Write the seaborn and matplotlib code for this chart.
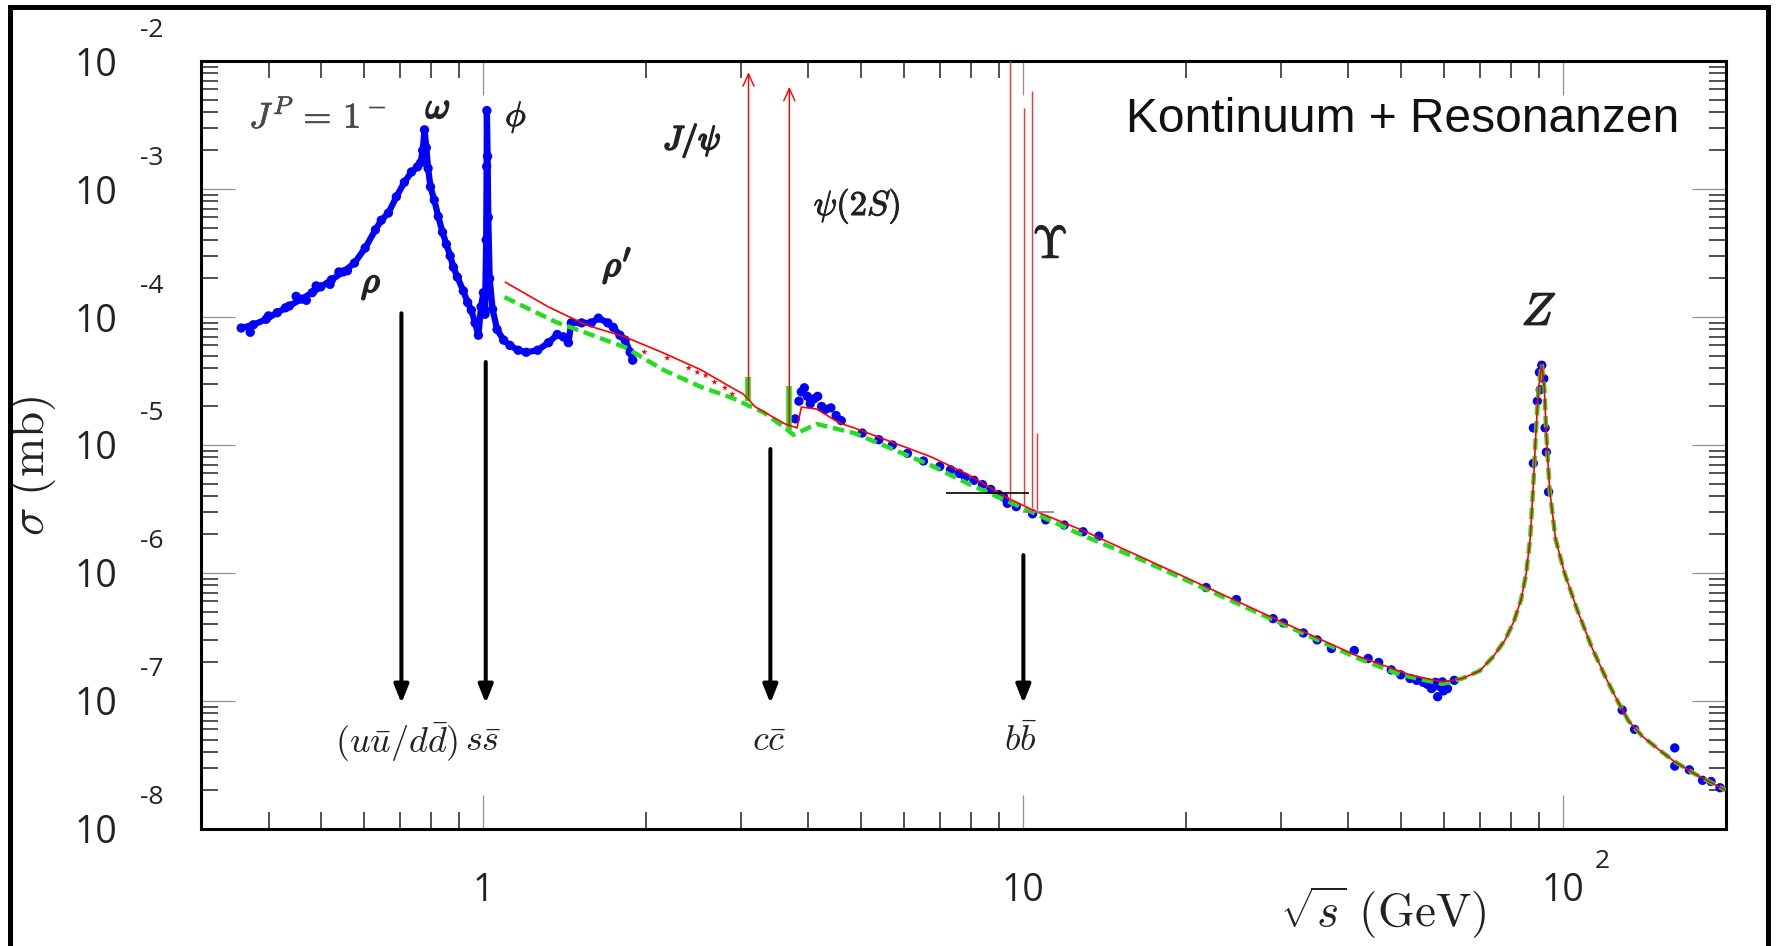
# e+e- -> hadrons cross section, "Kontinuum + Resonanzen"
# values (sqrt(s) in GeV, sigma in mb)

import numpy as np
import pandas as pd
import seaborn as sns
import matplotlib.pyplot as plt
import matplotlib.patheffects as pe
from matplotlib.patches import Rectangle
from matplotlib.ticker import NullFormatter, LogLocator

# ---------------------------------------------------------------
# 1. Data
# ---------------------------------------------------------------
# blue data: rho / omega / phi / rho' band
low_x = [0.356, 0.375, 0.396, 0.415, 0.437, 0.46, 0.482, 0.50, 0.523, 0.55,
         0.577, 0.604, 0.631, 0.647, 0.667, 0.69, 0.714, 0.736, 0.755, 0.765,
         0.772, 0.778, 0.784, 0.79, 0.798, 0.811, 0.825, 0.84, 0.854, 0.868,
         0.88, 0.895, 0.918, 0.935, 0.95, 0.965, 0.979, 0.99, 1.0, 1.007,
         1.012, 1.014, 1.015, 1.018, 1.021, 1.027, 1.04, 1.06, 1.09, 1.12,
         1.16, 1.20, 1.26, 1.32, 1.37, 1.406, 1.437, 1.455, 1.52, 1.585,
         1.633, 1.70, 1.74, 1.79, 1.83, 1.87, 1.89]
low_y = [8.2e-5, 8.7e-5, 9.6e-5, 1.08e-4, 1.22e-4, 1.38e-4, 1.55e-4, 1.72e-4, 1.95e-4, 2.25e-4,
         2.64e-4, 3.46e-4, 4.8e-4, 5.7e-4, 6.5e-4, 8.7e-4, 1.13e-3, 1.36e-3, 1.49e-3, 1.6e-3,
         2.0e-3, 2.9e-3, 2.1e-3, 1.45e-3, 1.04e-3, 8.2e-4, 6.1e-4, 4.6e-4, 3.7e-4, 3.0e-4,
         2.45e-4, 2.05e-4, 1.6e-4, 1.3e-4, 1.13e-4, 9.0e-5, 7.2e-5, 1.2e-4, 1.55e-4, 1.05e-4,
         4.0e-4, 1.5e-3, 4.1e-3, 1.8e-3, 6.0e-4, 2.0e-4, 1.15e-4, 8.0e-5, 6.6e-5, 6.0e-5,
         5.5e-5, 5.3e-5, 5.5e-5, 6.3e-5, 7.3e-5, 7.0e-5, 6.3e-5, 9.0e-5, 9.0e-5, 9.0e-5,
         9.8e-5, 9.0e-5, 8.3e-5, 7.2e-5, 6.6e-5, 5.3e-5, 4.6e-5]

# scattered blue points around the rho band
rho_sc_x = [0.37, 0.40, 0.43, 0.45, 0.47, 0.49, 0.52, 0.54, 0.56]
rho_sc_y = [7.6e-5, 1.02e-4, 1.18e-4, 1.45e-4, 1.35e-4, 1.75e-4, 1.8e-4, 2.25e-4, 2.3e-4]

# blue data above the psi(2S)
psi_x = [3.78, 3.84, 3.88, 3.93, 3.98, 4.03, 4.1, 4.16, 4.23, 4.3, 4.4, 4.5, 4.6]
psi_y = [1.6e-5, 2.2e-5, 2.6e-5, 2.8e-5, 2.4e-5, 2.1e-5, 2.3e-5, 2.4e-5, 2.0e-5, 1.9e-5,
         1.95e-5, 1.7e-5, 1.55e-5]

# blue data along the continuum
cont_x = [5.03, 5.4, 5.72, 6.1, 6.53, 7.0, 7.33, 7.6, 7.8, 8.1, 8.4, 8.7, 9.0, 9.2, 9.34,
          9.7, 10.4, 11.0, 11.9, 12.9, 13.8, 21.8, 24.8, 29.0, 30.3, 33.0, 35.0, 37.2,
          41.0, 43.5, 45.5, 48, 50, 52, 53.5, 55, 56, 57, 57.5, 58, 58.5, 59, 59.7, 60,
          61, 62.8]
cont_y = [1.24e-5, 1.1e-5, 1.0e-5, 8.6e-6, 7.5e-6, 6.8e-6, 6.4e-6, 6.0e-6, 5.6e-6, 5.3e-6,
          4.9e-6, 4.5e-6, 4.1e-6, 3.9e-6, 3.5e-6, 3.3e-6, 2.9e-6, 2.6e-6, 2.37e-6, 2.1e-6,
          1.94e-6, 7.7e-7, 6.2e-7, 4.4e-7, 4.07e-7, 3.4e-7, 3.0e-7, 2.57e-7, 2.48e-7,
          2.15e-7, 2.0e-7, 1.75e-7, 1.6e-7, 1.5e-7, 1.45e-7, 1.4e-7, 1.35e-7, 1.25e-7,
          1.3e-7, 1.4e-7, 1.08e-7, 1.3e-7, 1.41e-7, 1.2e-7, 1.25e-7, 1.45e-7]

# blue data on the Z peak and above it
zpk_x = [88.0, 88.0, 89.5, 90.3, 90.6, 91.2, 92.0, 92.5, 93.0, 93.9]
zpk_y = [7.2e-6, 1.36e-5, 2.2e-5, 3.7e-5, 2.7e-5, 4.2e-5, 3.3e-5, 1.36e-5, 8.8e-6, 4.3e-6]
lep2_x = [128.5, 135.5, 160.8, 160.8, 171.1, 181.0, 187.7, 195.0]
lep2_y = [8.5e-8, 6.0e-8, 4.3e-8, 3.1e-8, 2.9e-8, 2.4e-8, 2.35e-8, 2.1e-8]

# small red points between rho' and J/psi
star_x = [1.987, 2.19, 2.40, 2.49, 2.58, 2.68, 2.80, 2.89]
star_y = [5.33e-5, 4.78e-5, 4.0e-5, 3.7e-5, 3.5e-5, 3.1e-5, 2.8e-5, 2.5e-5]

# red continuum curve (below the Z)
red_x = [1.098, 1.319, 1.551, 1.83, 2.154, 2.53, 2.89, 3.03, 3.19, 3.62, 3.81, 3.88,
         4.14, 4.56, 4.86, 5.72, 6.76, 7.93, 9.34, 10.5, 12.95, 16.6, 19.9, 29.9, 41.5,
         52.0, 59.7]
red_y = [1.87e-4, 1.2e-4, 8.66e-5, 6.98e-5, 5.24e-5, 3.86e-5, 2.79e-5, 2.5e-5, 1.98e-5,
         1.46e-5, 1.36e-5, 1.98e-5, 1.91e-5, 1.49e-5, 1.36e-5, 1.05e-5, 8.05e-6, 5.83e-6,
         3.86e-6, 3.05e-6, 2.13e-6, 1.32e-6, 9.3e-7, 4.2e-7, 2.25e-7, 1.6e-7, 1.41e-7]

# green dashed curve (below the Z)
green_x = [1.094, 1.365, 1.551, 1.83, 2.154, 2.53, 2.89, 3.3, 3.62, 3.75, 4.14, 4.86,
           5.72, 6.76, 7.93, 9.34, 12.95, 16.6, 19.9, 29.9, 41.5, 50.0, 59.7]
green_y = [1.43e-4, 9.1e-5, 7.5e-5, 5.8e-5, 3.86e-5, 2.84e-5, 2.33e-5, 1.8e-5, 1.36e-5,
           1.2e-5, 1.46e-5, 1.24e-5, 9.3e-6, 6.9e-6, 4.95e-6, 3.65e-6, 1.95e-6, 1.26e-6,
           8.9e-7, 4.07e-7, 2.17e-7, 1.6e-7, 1.36e-7]

# Z line shape shared by both curves
z_x = [65, 70, 74, 78, 81, 83.5, 85.3, 86.8, 88.0, 89.0, 90.0, 91.2, 92.2, 93.0, 94.3,
       96.7, 100.5, 106, 113, 120, 126, 132, 140, 150, 160, 175, 188, 200]
z_y = [1.5e-7, 1.72e-7, 2.2e-7, 3.0e-7, 4.2e-7, 6.2e-7, 9.8e-7, 1.85e-6, 5.0e-6, 1.3e-5,
       2.8e-5, 4.3e-5, 2.8e-5, 1.2e-5, 4.5e-6, 1.85e-6, 1.0e-6, 5.2e-7, 2.6e-7, 1.5e-7,
       1.0e-7, 7.0e-8, 5.3e-8, 4.2e-8, 3.4e-8, 2.7e-8, 2.3e-8, 2.0e-8]

# narrow resonances (red spikes)
cc_mass = [3.097, 3.686]
cc_base = [2.4e-5, 1.4e-5]
cc_top = [8.2e-3, 6.3e-3]
ups_mass = [9.46, 10.02, 10.36, 10.58]
ups_base = [3.6e-6, 3.4e-6, 3.2e-6, 3.1e-6]
ups_top = [1.0e-2, 4.3e-3, 5.8e-3, 1.24e-5]

# green bars at J/psi and psi(2S)
gbar_x = [3.097, 3.686]
gbar_lo = [2.2e-5, 1.3e-5]
gbar_hi = [3.4e-5, 2.9e-5]

# short horizontal marks near the Upsilon
hm_y = [4.2e-6, 3.0e-6]
hm_x0 = [7.19, 10.0]
hm_x1 = [10.26, 11.4]

# quark thresholds (black arrows)
thr_x = [0.705, 1.01, 3.40, 10.0]
thr_top = [1.07e-4, 4.45e-5, 9.3e-6, 1.38e-6]
thr_tip = 9.6e-8
thr_label_x = [0.69, 1.0, 3.37, 9.9]
thr_label_y = 4.8e-8
thr_labels = [r'$(u\bar{u}/d\bar{d})$', r'$s\bar{s}$', r'$c\bar{c}$', r'$b\bar{b}$']

y_exps = [-8, -7, -6, -5, -4, -3, -2]

# ---------------------------------------------------------------
# 2. Figure
# ---------------------------------------------------------------
sns.set_style('ticks')
plt.rcParams['font.family'] = ['Open Sans', 'DejaVu Sans']
plt.rcParams['mathtext.fontset'] = 'cm'

fig, ax = plt.subplots(figsize=(17.76, 9.46), dpi=100)
fig.subplots_adjust(left=0.1132, right=0.9718, bottom=0.1237, top=0.9355)
ax.set_xscale('log')
ax.set_yscale('log')

blue = '#0000ff'
green = '#22dd22'
ink = '#222222'

# blue data
sns.lineplot(x=low_x, y=low_y, sort=False, estimator=None, color=blue, lw=4.5,
             ax=ax, zorder=2)
blue_df = pd.DataFrame({'x': low_x + rho_sc_x + psi_x + cont_x + zpk_x + lep2_x,
                        'y': low_y + rho_sc_y + psi_y + cont_y + zpk_y + lep2_y})
sns.scatterplot(data=blue_df, x='x', y='y', color=blue, s=45, edgecolor='none',
                ax=ax, zorder=2)

# green dashed curve
sns.lineplot(x=green_x + z_x, y=green_y + z_y, sort=False, estimator=None,
             color=green, lw=3.2, linestyle=(0, (2.6, 1.3)), ax=ax, zorder=3)
ax.vlines(gbar_x, gbar_lo, gbar_hi, color=green, lw=4, zorder=3)

# red curve
sns.lineplot(x=red_x + z_x, y=red_y + z_y, sort=False, estimator=None,
             color='red', lw=1.2, ax=ax, zorder=4)
sns.scatterplot(x=star_x, y=star_y, color='red', marker='*', s=22, edgecolor='none',
                ax=ax, zorder=4)
for m, b, t in zip(cc_mass, cc_base, cc_top):
    ax.annotate('', xy=(m, t), xytext=(m, b),
                arrowprops=dict(arrowstyle='->,head_length=0.45,head_width=0.2',
                                color='red', lw=1.0, shrinkA=0, shrinkB=0,
                                mutation_scale=20), zorder=4)
ax.vlines(ups_mass, ups_base, ups_top, color='#ff3030', lw=1.0, zorder=4)
ax.hlines(hm_y, hm_x0, hm_x1, color=['black', 'gray'], lw=1.2, zorder=4)

# threshold arrows
for xa, ya in zip(thr_x, thr_top):
    ax.annotate('', xy=(xa, thr_tip), xytext=(xa, ya),
                arrowprops=dict(arrowstyle='-|>,head_length=0.55,head_width=0.22',
                                color='black', lw=2.9, shrinkA=0, shrinkB=0,
                                mutation_scale=20), zorder=5)
for xa, lab in zip(thr_label_x, thr_labels):
    ax.text(xa, thr_label_y, lab, ha='center', va='center', fontsize=26, color=ink)

# resonance names
txt = dict(color=ink, zorder=6)
bold = [pe.withStroke(linewidth=1.4, foreground=ink)]
semi = [pe.withStroke(linewidth=0.7, foreground=ink)]
ax.text(0.0315, 0.9128, r'$J^P \,=\, 1^-$', transform=ax.transAxes, fontsize=26,
        ha='left', va='baseline', color='#4a4a4a',
        path_effects=[pe.withStroke(linewidth=0.5, foreground='#4a4a4a')])
ax.text(0.1554, 0.9258, r'$\omega$', transform=ax.transAxes, fontsize=27,
        ha='center', va='baseline', path_effects=bold, **txt)
ax.text(0.2066, 0.9154, r'$\phi$', transform=ax.transAxes, fontsize=25,
        ha='center', va='baseline', path_effects=semi, **txt)
ax.text(0.1115, 0.6992, r'$\rho$', transform=ax.transAxes, fontsize=26,
        ha='center', va='baseline', path_effects=bold, **txt)
ax.text(0.2728, 0.7201, r"$\rho'$", transform=ax.transAxes, fontsize=26,
        ha='center', va='baseline', path_effects=bold, **txt)
ax.text(0.322, 0.8971, r'$J/\psi$', transform=ax.transAxes, fontsize=24,
        ha='center', va='center', path_effects=bold, **txt)
ax.text(0.4302, 0.8112, r'$\psi(2S)$', transform=ax.transAxes, fontsize=25,
        ha='center', va='center', path_effects=semi, **txt)
ax.text(0.5567, 0.7435, r'$\Upsilon$', transform=ax.transAxes, fontsize=33,
        ha='center', va='baseline', path_effects=semi, **txt)
ax.text(0.8774, 0.65625, r'$Z$', transform=ax.transAxes, fontsize=33,
        ha='center', va='baseline', path_effects=[pe.withStroke(linewidth=1.0,
        foreground=ink)], **txt)
ax.text(0.6066, 0.9076, 'Kontinuum + Resonanzen', transform=ax.transAxes,
        fontsize=34.5, family=['Liberation Sans', 'DejaVu Sans'], ha='left',
        va='baseline', color='#111111')

# ---------------------------------------------------------------
# 3. Axes, ticks, labels
# ---------------------------------------------------------------
ax.set_xlim(0.3, 200)
ax.set_ylim(1e-8, 1e-2)

ax.set_xticks([1, 10, 100])
ax.set_xticklabels(['1', '10', '10'])
ax.set_yticks([10.0 ** e for e in y_exps])
ax.set_yticklabels(['10'] * len(y_exps))
ax.xaxis.set_minor_locator(LogLocator(base=10, subs=np.arange(2, 10)))
ax.yaxis.set_minor_locator(LogLocator(base=10, subs=np.arange(2, 10), numticks=20))
ax.xaxis.set_minor_formatter(NullFormatter())
ax.yaxis.set_minor_formatter(NullFormatter())

ax.tick_params(which='both', direction='in', top=True, right=True,
               labelsize=27, labelcolor=ink)
ax.tick_params(which='major', length=24.5, width=0.9, color='#909090')
ax.tick_params(which='minor', length=12.5, width=1.1, color=ink)
ax.tick_params(axis='x', which='major', pad=31)
ax.tick_params(axis='y', which='major', pad=60)

for e in y_exps:
    ax.annotate(str(e), xy=(0, 10.0 ** e), xycoords=('axes fraction', 'data'),
                xytext=(-49, 31), textcoords='offset pixels', ha='center',
                va='center', fontsize=19, color=ink, annotation_clip=False)
ax.annotate('2', xy=(100, 0), xycoords=('data', 'axes fraction'),
            xytext=(39, -33), textcoords='offset pixels', ha='center',
            va='center', fontsize=19, color=ink, annotation_clip=False)

for s in ax.spines.values():
    s.set_linewidth(2.2)
    s.set_color('black')

ax.set_xlabel(r'$\sqrt{s}\ (\mathrm{GeV})$', fontsize=34, color=ink)
ax.xaxis.set_label_coords(0.775, -0.0716)
ax.set_ylabel(r'$\sigma\ (\mathrm{mb})$', fontsize=34, color=ink)
ax.yaxis.set_label_coords(-0.094, 0.4727)

# outer frame of the picture (bottom edge is cut off)
fig.add_artist(Rectangle((0.00563, -0.05), 0.9899, 1.0426, transform=fig.transFigure,
                         fill=False, lw=3.6, edgecolor='black', clip_on=False))

fig.savefig('out.png', dpi=100)
